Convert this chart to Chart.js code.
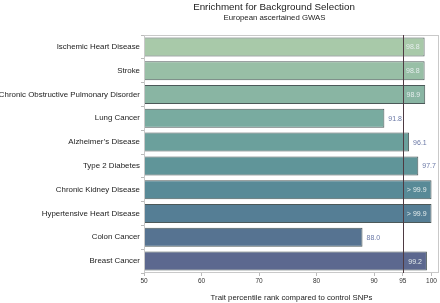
<!DOCTYPE html>
<html>
<head>
<meta charset="utf-8">
<script src="https://cdn.jsdelivr.net/npm/chart.js@4"></script>
<style>
    html, body { margin: 0; padding: 0; background: #ffffff; }
    #wrap { width: 440px; height: 303px; }
</style>
</head>
<body>
<div id="wrap"><canvas id="chartEnriquecimiento"></canvas></div>
<script>
// ===== Datos =====
const rasgos = [
    'Ischemic Heart Disease',
    'Stroke',
    'Chronic Obstructive Pulmonary Disorder',
    'Lung Cancer',
    'Alzheimer\u2019s Disease',
    'Type 2 Diabetes',
    'Chronic Kidney Disease',
    'Hypertensive Heart Disease',
    'Colon Cancer',
    'Breast Cancer'
];
const percentiles = [98.8, 98.8, 98.9, 91.8, 96.1, 97.7, 100, 100, 88.0, 99.2];
const etiquetasValor = ['98.8', '98.8', '98.9', '91.8', '96.1', '97.7', '> 99.9', '> 99.9', '88.0', '99.2'];
const ticksX = [50, 60, 70, 80, 90, 95, 100];
const umbral = 95;

const coloresBarras = [
    '#a8c9a9', '#98bfa6', '#89b5a3', '#79aba0', '#6ba09c',
    '#609599', '#588a97', '#557e95', '#567391', '#5c688f'
];

const fuente = '"Liberation Sans", Arial, sans-serif';

// Plugin: títulos, línea en 95, borde del área y etiquetas de valor
const pluginExtras = {
    id: 'extras',
    afterDatasetsDraw(chart) {
        const ctx = chart.ctx;
        const area = chart.chartArea;
        const x = chart.scales.x;

        ctx.save();
        // títulos
        ctx.fillStyle = '#222222';
        ctx.textAlign = 'center';
        ctx.textBaseline = 'alphabetic';
        ctx.font = '9.8px ' + fuente;
        ctx.fillText('Enrichment for Background Selection', 274, 10);
        ctx.font = '7.8px ' + fuente;
        ctx.fillText('European ascertained GWAS', 274.5, 20);

        // borde del área
        ctx.strokeStyle = '#c9c9c9';
        ctx.lineWidth = 1;
        ctx.strokeRect(area.left + 0.5, area.top + 0.5, area.right - area.left - 1, area.bottom - area.top - 1);

        // línea vertical
        const xu = Math.round(x.getPixelForValue(umbral)) + 0.5;
        ctx.strokeStyle = '#4e3a42';
        ctx.beginPath();
        ctx.moveTo(xu, area.top);
        ctx.lineTo(xu, area.bottom);
        ctx.stroke();

        // etiquetas
        ctx.font = '7px ' + fuente;
        ctx.textBaseline = 'middle';
        const meta = chart.getDatasetMeta(0);
        meta.data.forEach(function(bar, i) {
            const v = percentiles[i];
            if (v >= 98.5) {
                ctx.fillStyle = '#e4ecec';
                ctx.textAlign = 'right';
                ctx.fillText(etiquetasValor[i], bar.x - 5, bar.y + 0.5);
            } else {
                ctx.fillStyle = '#6a78a6';
                ctx.textAlign = 'left';
                ctx.fillText(etiquetasValor[i], bar.x + 4, bar.y + 0.5);
            }
        });
        ctx.restore();
    }
};

const ctxE = document.getElementById('chartEnriquecimiento');
new Chart(ctxE, {
    type: 'bar',
    data: {
        labels: rasgos,
        datasets: [{
            data: percentiles,
            backgroundColor: coloresBarras,
            borderColor: 'rgba(45, 60, 60, 0.85)',
            borderWidth: 1,
            borderSkipped: false,
            barPercentage: 0.8,
            categoryPercentage: 1.0
        }]
    },
    options: {
        indexAxis: 'y',
        responsive: true,
        maintainAspectRatio: false,
        animation: false,
        layout: { padding: { left: 0, right: 1, top: 35, bottom: 0 } },
        plugins: {
            legend: { display: false },
            tooltip: { enabled: false },
            title: { display: false },
            subtitle: { display: false }
        },
        scales: {
            x: {
                min: 50,
                max: 101.3,
                afterBuildTicks: function(scale) {
                    scale.ticks = ticksX.map(function(v) { return { value: v }; });
                },
                afterFit: function(scale) { scale.height = 30; },
                grid: { display: true, drawOnChartArea: false, tickLength: 3, color: '#bbbbbb' },
                border: { display: false },
                ticks: {
                    color: '#333333',
                    font: { family: fuente, size: 6.5 },
                    padding: 1,
                    maxRotation: 0,
                    autoSkip: false
                },
                title: {
                    display: true,
                    text: 'Trait percentile rank compared to control SNPs',
                    color: '#222222',
                    font: { family: fuente, size: 7.8 },
                    padding: { top: 8, bottom: 0 }
                }
            },
            y: {
                afterFit: function(scale) { scale.width = 144; },
                grid: { display: true, drawOnChartArea: false, tickLength: 3, color: '#bbbbbb' },
                border: { display: false },
                ticks: {
                    color: '#222222',
                    font: { family: fuente, size: 7.9 },
                    padding: 1,
                    autoSkip: false
                }
            }
        }
    },
    plugins: [pluginExtras]
});
</script>
</body>
</html>
